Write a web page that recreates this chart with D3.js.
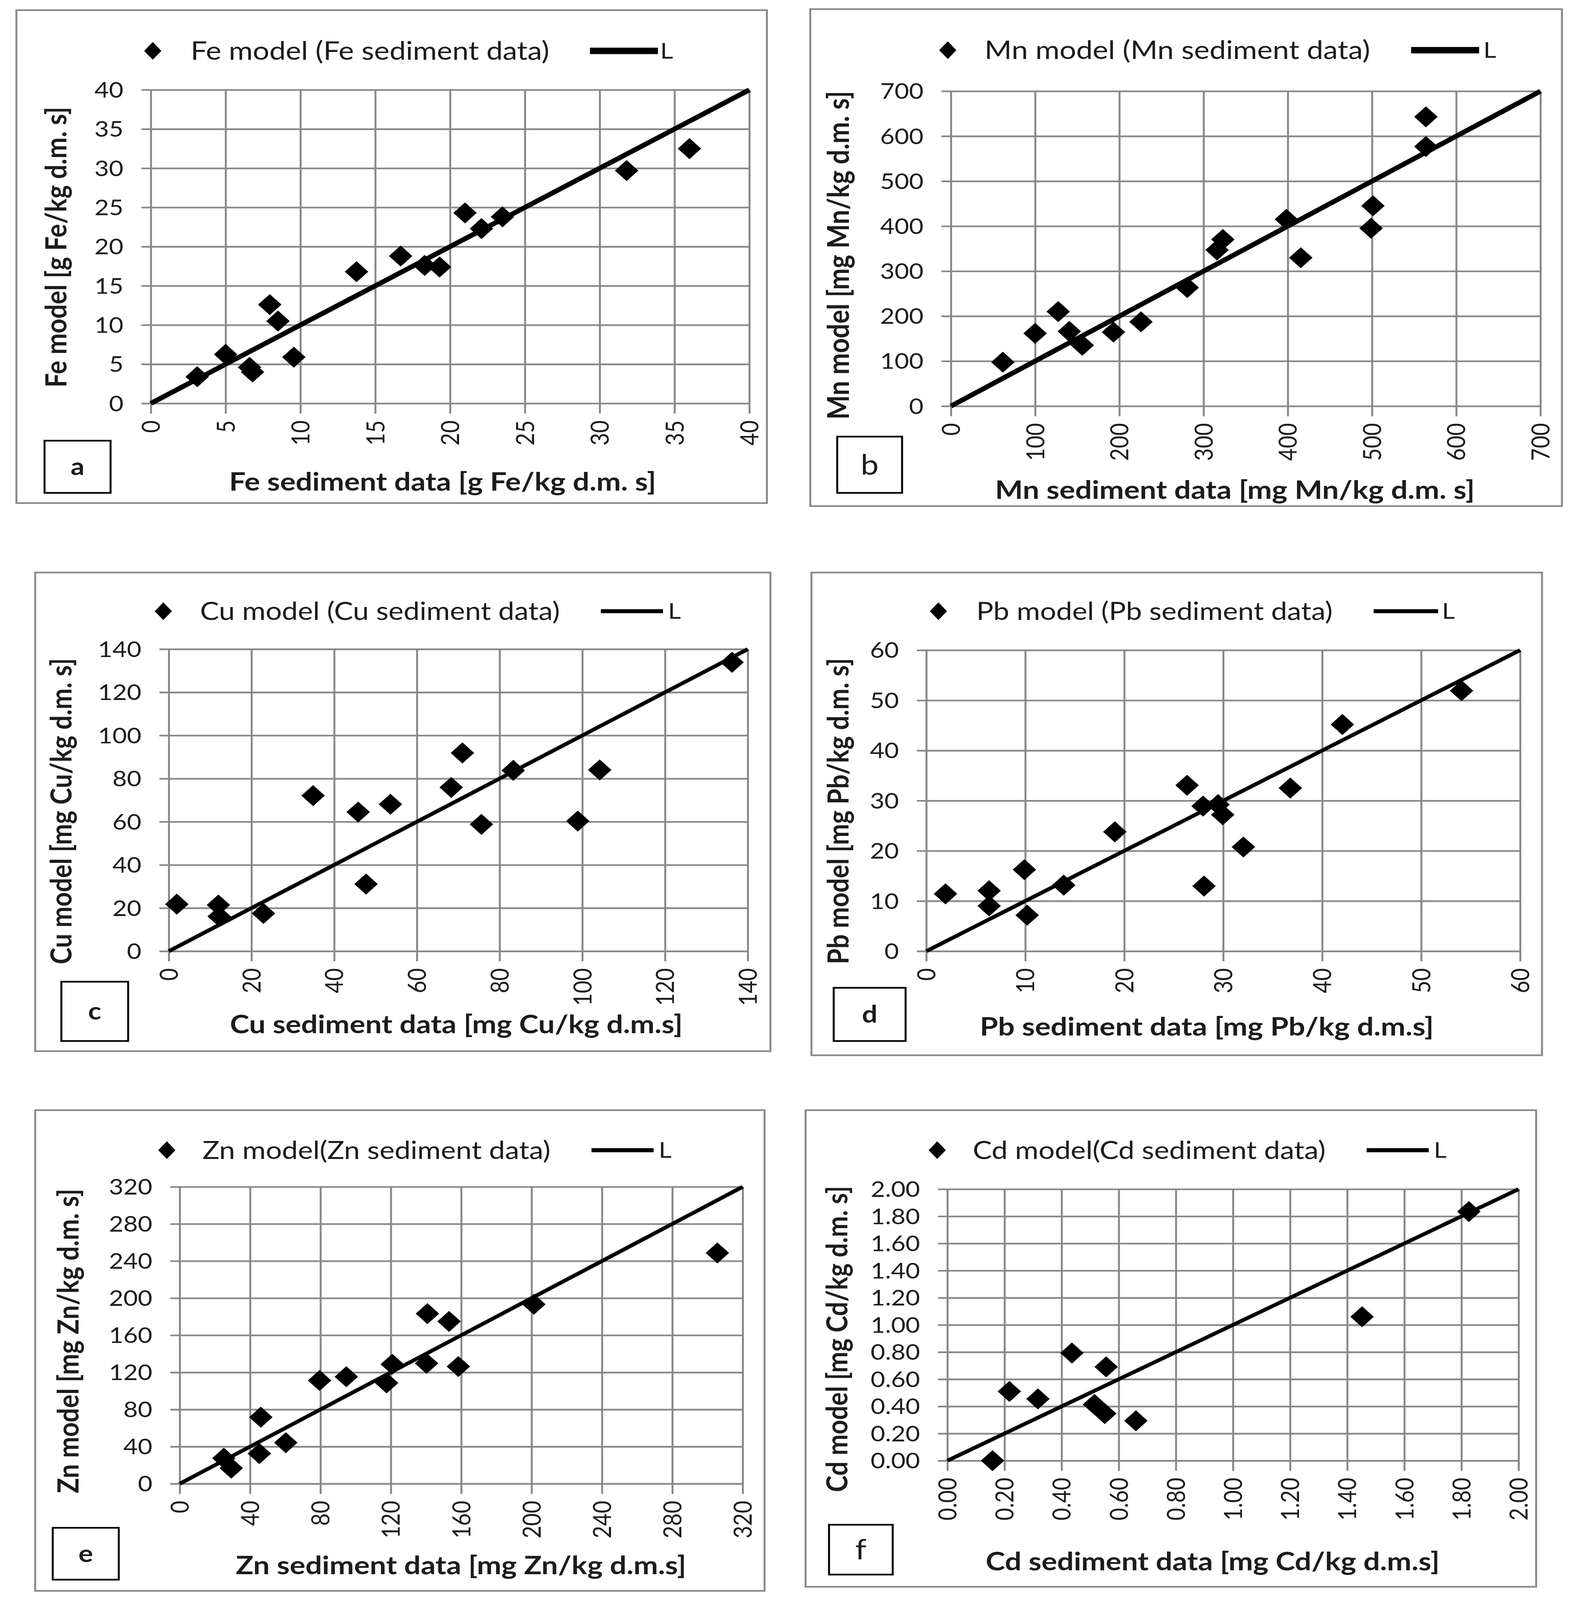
<!DOCTYPE html>
<html><head><meta charset="utf-8">
<script src="https://cdn.jsdelivr.net/npm/d3@7/dist/d3.min.js"></script>
<style>html,body{margin:0;padding:0;background:#fff;overflow:hidden;} svg{display:block;}</style>
</head><body>
<svg id="chart"></svg>
<script>
// ---------------- DATA ----------------
const feX = [3.1, 5.0, 6.6, 6.8, 7.95, 8.5, 9.56, 13.75, 16.7, 18.3, 19.3, 21.0, 22.1, 23.5, 31.8, 36.0];
const feY = [3.4, 6.25, 4.6, 4.0, 12.6, 10.5, 5.9, 16.8, 18.8, 17.6, 17.4, 24.3, 22.3, 23.8, 29.7, 32.5];
const feTicks = [0, 5, 10, 15, 20, 25, 30, 35, 40];

const mnX = [61.7, 100, 127.4, 140.6, 156, 193, 225.7, 280.6, 316, 322.9, 398.3, 415.4, 498.9, 501.1, 564, 564];
const mnY = [97.6, 161.7, 210, 166, 135.3, 164.5, 187.3, 263.5, 346.9, 370.4, 415.2, 329.8, 395.3, 445.2, 577, 643];
const mnTicks = [0, 100, 200, 300, 400, 500, 600, 700];

const cuX = [1.95, 12.0, 12.2, 22.9, 34.9, 45.8, 47.7, 53.6, 68.3, 71.0, 75.6, 83.3, 98.9, 104.2, 136.2];
const cuY = [21.8, 21.4, 16.1, 17.5, 72.1, 64.5, 31.1, 68.1, 75.9, 91.9, 58.8, 83.8, 60.3, 84.0, 133.9];
const cuTicks = [0, 20, 40, 60, 80, 100, 120, 140];

const pbX = [1.94, 6.35, 6.35, 9.91, 10.19, 13.89, 19.05, 26.35, 27.96, 28.06, 29.48, 29.95, 32.04, 36.78, 42.04, 54.08];
const pbY = [11.43, 12.05, 9.02, 16.25, 7.17, 13.16, 23.79, 33.07, 28.92, 12.98, 29.23, 27.19, 20.77, 32.51, 45.18, 51.92];
const pbTicks = [0, 10, 20, 30, 40, 50, 60];

const znX = [25.1, 29.3, 46.1, 45.3, 60.3, 79.5, 94.7, 117.6, 120.8, 140.8, 140.3, 153.1, 158.4, 201.3, 305.6];
const znY = [27.5, 16.8, 71.7, 32.5, 44.2, 111.3, 115.3, 108.6, 128.7, 183.3, 129.7, 174.9, 126.3, 193.4, 248.7];
const znTicks = [0, 40, 80, 120, 160, 200, 240, 280, 320];

const cdX = [0.158, 0.217, 0.317, 0.436, 0.515, 0.551, 0.556, 0.660, 1.452, 1.826];
const cdY = [0.00, 0.51, 0.455, 0.793, 0.414, 0.347, 0.691, 0.294, 1.06, 1.835];
const cdTicks = [0, 0.2, 0.4, 0.6, 0.8, 1.0, 1.2, 1.4, 1.6, 1.8, 2.0];

const legendNames = ["Fe model (Fe sediment data)", "Mn model (Mn sediment data)", "Cu model (Cu sediment data)",
  "Pb model (Pb sediment data)", "Zn model(Zn sediment data)", "Cd model(Cd sediment data)"];
const lineName = "L";
const xTitles = ["Fe sediment data [g Fe/kg d.m. s]", "Mn sediment data [mg Mn/kg d.m. s]", "Cu sediment data [mg Cu/kg d.m.s]",
  "Pb sediment data [mg Pb/kg d.m.s]", "Zn sediment data [mg Zn/kg d.m.s]", "Cd sediment data [mg Cd/kg d.m.s]"];
const yTitles = ["Fe model [g Fe/kg d.m. s]", "Mn model [mg Mn/kg d.m. s]", "Cu model [mg Cu/kg d.m. s]",
  "Pb model [mg Pb/kg d.m. s]", "Zn model [mg Zn/kg d.m. s]", "Cd model [mg Cd/kg d.m. s]"];
const panelLetters = ["a", "b", "c", "d", "e", "f"];

// ---------------- LAYOUT ----------------
const W = 4034, H = 4720;
const panels = [
  {xs: feX, ys: feY, ticks: feTicks, fmt: d3.format("d"), frame: [42, 30, 1963, 1484], plot: [386, 265, 1918, 1190],
   legY: 150, diaX: 391, txtX: 488, txtW: 918, ln: [1510, 1684], lX: 1690, lineW: 14, legLineW: 19,
   box: [114, 1300, 283, 1454], bold: true, xt: [1133, 1421, 1093], yt: [144, 729, 828]},
  {xs: mnX, ys: mnY, ticks: mnTicks, fmt: d3.format("d"), frame: [2074, 27, 3998, 1493], plot: [2434, 269, 3943, 1198],
   legY: 148, diaX: 2426, txtX: 2520, txtW: 987, ln: [3612, 3786], lX: 3797, lineW: 14, legLineW: 19,
   box: [2143, 1288, 2309, 1454], bold: false, xt: [3161, 1445, 1228], yt: [2146, 753, 969]},
  {xs: cuX, ys: cuY, ticks: cuTicks, fmt: d3.format("d"), frame: [90, 1689, 1972, 3101], plot: [432, 1915, 1914, 2806],
   legY: 1803, diaX: 418, txtX: 512, txtW: 921, ln: [1538, 1697], lX: 1710, lineW: 11, legLineW: 12,
   box: [157, 2896, 328, 3071], bold: true, xt: [1168, 3022, 1159], yt: [157, 2393, 903]},
  {xs: pbX, ys: pbY, ticks: pbTicks, fmt: d3.format("d"), frame: [2077, 1689, 3947, 3113], plot: [2371, 1918, 3891, 2806],
   legY: 1803, diaX: 2402, txtX: 2499, txtW: 912, ln: [3516, 3681], lX: 3691, lineW: 11, legLineW: 12,
   box: [2134, 2914, 2318, 3071], bold: true, xt: [3089, 3028, 1162], yt: [2146, 2393, 903]},
  {xs: znX, ys: znY, ticks: znTicks, fmt: d3.format("d"), frame: [90, 3275, 1957, 4693], plot: [460, 3501, 1901, 4377],
   legY: 3393, diaX: 427, txtX: 518, txtW: 891, ln: [1514, 1673], lX: 1686, lineW: 11, legLineW: 12,
   box: [135, 4507, 304, 4660], bold: true, xt: [1180, 4618, 1153], yt: [175, 3956, 898]},
  {xs: cdX, ys: cdY, ticks: cdTicks, fmt: d3.format(".2f"), frame: [2062, 3275, 3932, 4681], plot: [2425, 3508, 3887, 4309],
   legY: 3393, diaX: 2399, txtX: 2490, txtW: 903, ln: [3498, 3657], lX: 3670, lineW: 11, legLineW: 12,
   box: [2122, 4498, 2285, 4645], bold: false, xt: [3104, 4606, 1162], yt: [2143, 3950, 903]}
];

const FONT = "Lato, 'Open Sans', 'DejaVu Sans', sans-serif";
const TXT = "#1c1c1c";
const GRID = "#898989";

const vw = window.innerWidth || W, vh = window.innerHeight || H;
const svg = d3.select("#chart").attr("width", vw).attr("height", vh)
  .attr("viewBox", `0 0 ${W} ${H}`).attr("preserveAspectRatio", "none");
svg.append("rect").attr("width", W).attr("height", H).attr("fill", "#fff");

function fitText(sel, target) {
  const w = sel.node().getComputedTextLength();
  const fs = parseFloat(sel.attr("font-size"));
  if (w > 0) sel.attr("font-size", fs * target / w);
}
function diamond(g, cx, cy, hw, hh) {
  g.append("path").attr("d", `M${cx},${cy - hh}L${cx + hw},${cy}L${cx},${cy + hh}L${cx - hw},${cy}Z`).attr("fill", "#000");
}

panels.forEach((p, i) => {
  const g = svg.append("g");
  const [fx0, fy0, fx1, fy1] = p.frame;
  g.append("rect").attr("x", fx0).attr("y", fy0).attr("width", fx1 - fx0).attr("height", fy1 - fy0)
    .attr("fill", "#fff").attr("stroke", GRID).attr("stroke-width", 5);

  const [l, t, r, b] = p.plot;
  const maxV = p.ticks[p.ticks.length - 1];
  const x = d3.scaleLinear().domain([0, maxV]).range([l, r]);
  const y = d3.scaleLinear().domain([0, maxV]).range([b, t]);

  const ya = g.append("g").attr("transform", `translate(${l},0)`)
    .call(d3.axisLeft(y).tickValues(p.ticks).tickSize(-(r - l)).tickFormat(""));
  ya.select(".domain").remove();
  ya.selectAll("line").attr("stroke", GRID).attr("stroke-width", 5).attr("x1", -24);

  const xa = g.append("g").attr("transform", `translate(0,${b})`)
    .call(d3.axisBottom(x).tickValues(p.ticks).tickSize(-(b - t)).tickFormat(""));
  xa.select(".domain").remove();
  xa.selectAll("line").attr("stroke", GRID).attr("stroke-width", 5).attr("y1", 30);

  g.append("g").selectAll("text").data(p.ticks).join("text")
    .attr("x", l - 70).attr("y", d => y(d)).attr("dy", "0.36em")
    .attr("text-anchor", "end").attr("font-family", FONT).attr("font-size", 64).attr("fill", TXT)
    .text(d => p.fmt(d));
  g.append("g").selectAll("text").data(p.ticks).join("text")
    .attr("transform", d => `translate(${x(d)},${b + 50}) rotate(-90)`).attr("dy", "0.36em")
    .attr("text-anchor", "end").attr("font-family", FONT).attr("font-size", 64).attr("fill", TXT)
    .text(d => p.fmt(d));

  const lineX = [0, maxV], lineY = [0, maxV];
  g.append("line").attr("x1", x(lineX[0])).attr("y1", y(lineY[0])).attr("x2", x(lineX[1])).attr("y2", y(lineY[1]))
    .attr("stroke", "#000").attr("stroke-width", p.lineW);

  const pts = g.append("g");
  p.xs.forEach((xv, k) => diamond(pts, x(xv), y(p.ys[k]), 30, 31));

  diamond(g, p.diaX, p.legY, 22, 26);
  const lt = g.append("text").attr("x", p.txtX).attr("y", p.legY).attr("dy", "0.35em")
    .attr("font-family", FONT).attr("font-size", 64).attr("fill", TXT).text(legendNames[i]);
  fitText(lt, p.txtW);
  g.append("line").attr("x1", p.ln[0]).attr("x2", p.ln[1]).attr("y1", p.legY).attr("y2", p.legY)
    .attr("stroke", "#000").attr("stroke-width", p.legLineW);
  g.append("text").attr("x", p.lX).attr("y", p.legY).attr("dy", "0.35em")
    .attr("font-family", FONT).attr("font-size", 64).attr("fill", TXT).text(lineName);

  const xt = g.append("text").attr("x", p.xt[0]).attr("y", p.xt[1]).attr("dy", "0.35em").attr("text-anchor", "middle")
    .attr("font-family", FONT).attr("font-weight", "bold").attr("font-size", 64).attr("fill", TXT).text(xTitles[i]);
  fitText(xt, p.xt[2]);
  const yt = g.append("text").attr("transform", `translate(${p.yt[0]},${p.yt[1]}) rotate(-90)`).attr("dy", "0.35em")
    .attr("text-anchor", "middle").attr("font-family", FONT).attr("font-weight", "bold").attr("font-size", 64)
    .attr("fill", TXT).text(yTitles[i]);
  fitText(yt, p.yt[2]);

  const [bx0, by0, bx1, by1] = p.box;
  g.append("rect").attr("x", bx0).attr("y", by0).attr("width", bx1 - bx0).attr("height", by1 - by0)
    .attr("fill", "#fff").attr("stroke", "#000").attr("stroke-width", 5);
  g.append("text").attr("x", (bx0 + bx1) / 2).attr("y", (by0 + by1) / 2).attr("dy", "0.35em").attr("text-anchor", "middle")
    .attr("font-family", FONT).attr("font-weight", p.bold ? "bold" : "normal").attr("font-size", p.bold ? 70 : 82)
    .attr("fill", TXT).text(panelLetters[i]);
});
</script>
</body></html>
